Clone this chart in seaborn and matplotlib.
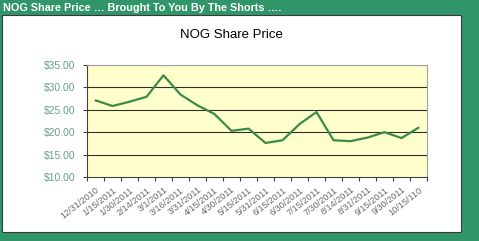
import matplotlib
matplotlib.use("Agg")
import matplotlib.pyplot as plt
import seaborn as sns
import pandas as pd
from matplotlib.patches import Rectangle

dates = ["12/31/2010", "1/15/2011", "1/30/2011", "2/14/2011", "3/1/2011",
         "3/16/2011", "3/31/2011", "4/15/2011", "4/30/2011", "5/15/2011",
         "5/31/2011", "6/15/2011", "6/30/2011", "7/15/2011", "7/30/2011",
         "8/14/2011", "8/31/2011", "9/15/2011", "9/30/2011", "10/15/110"]
prices = [27.1, 25.85, 26.8, 27.9, 32.7, 28.4, 26.0, 24.05, 20.3, 20.8,
          17.6, 18.2, 21.8, 24.5, 18.2, 18.0, 18.8, 20.0, 18.7, 21.0]
yticks = [10, 15, 20, 25, 30, 35]

sns.set_theme(style="white")
plt.rcParams['font.family'] = ['Liberation Sans', 'DejaVu Sans']

GREEN = "#31956A"
fig = plt.figure(figsize=(4.79, 2.41), dpi=100, facecolor=GREEN)
W, H = 479, 241

def fx(x):
    return x / W

def fy(y):
    return 1 - y / H

# white inner panel with dark edge
fig.patches.append(Rectangle((fx(2), fy(232)), fx(459), 217 / H,
                             transform=fig.transFigure, facecolor="white",
                             edgecolor="#3a3a3a", linewidth=0.8, zorder=-5))

fig.text(fx(3), fy(8), "NOG Share Price … Brought To You By The Shorts ….",
         color="white", fontsize=7.8, fontweight="bold", va="center", ha="left")
fig.text(fx(231), fy(35), "NOG Share Price", color="black", fontsize=9.5,
         va="center", ha="center")

ax = fig.add_axes([fx(87), fy(177), 340 / W, 112 / H])
ax.set_zorder(2)
ax.set_facecolor("#FFFFCC")

df = pd.DataFrame({"pos": list(range(len(dates))), "price": prices})
sns.lineplot(data=df, x="pos", y="price", ax=ax, color="#3B8A48",
             linewidth=1.6, sort=False, zorder=3)

ax.set_xlim(-0.5, len(dates) - 0.5)
ax.set_ylim(10, 35)
ax.set_yticks(yticks)
ax.set_yticklabels([f"${v:.2f}" for v in yticks])
ax.set_xticks([i - 0.5 for i in range(len(dates) + 1)])
ax.set_xticklabels([])
ax.set_xticks(list(range(len(dates))), minor=True)
ax.set_xticklabels(dates, minor=True, rotation=38, ha="right",
                   rotation_mode="anchor", fontsize=6.6, color="#6A6A6A")
ax.tick_params(axis="x", which="major", length=3, width=0.8, color="#404040",
               direction="out", bottom=True)
ax.tick_params(axis="x", which="minor", length=0, pad=6)
ax.tick_params(axis="y", length=3, width=0.8, color="#404040", direction="out",
               left=True, labelsize=7.5, labelcolor="#6A9C90", pad=5)
ax.set_xlabel("")
ax.set_ylabel("")
for y in yticks[1:-1]:
    ax.axhline(y, color="#303030", linewidth=0.8, zorder=1)
ax.axhline(35, color="#909090", linewidth=0.8, zorder=1)
ax.spines["left"].set_color("#404040")
ax.spines["bottom"].set_color("#404040")
ax.spines["top"].set_color("#A0A0A0")
ax.spines["right"].set_color("#A0A0A0")
for s in ax.spines.values():
    s.set_linewidth(0.8)

fig.savefig("out.png", dpi=100, facecolor=GREEN)
